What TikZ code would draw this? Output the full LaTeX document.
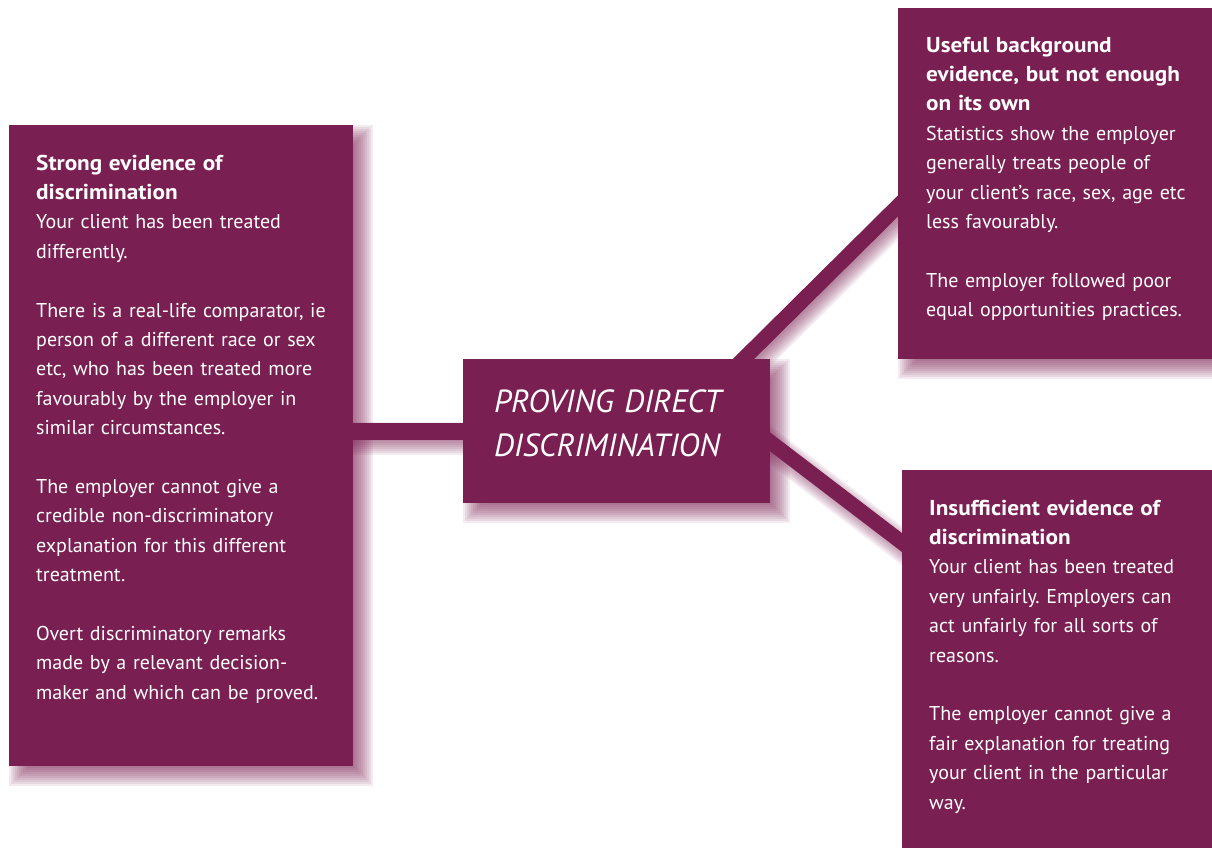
\documentclass[tikz,border=0pt]{standalone}
\usepackage{fontspec}
\setmainfont{PT Sans}
\newfontface\hdfont{PT Sans Bold}[FakeStretch=1.08]
\usetikzlibrary{calc,backgrounds}
\definecolor{plum}{RGB}{122,31,82}
\newcommand{\hd}[1]{{\hdfont\fontsize{21.5}{29.4}\selectfont #1}}
\newcommand{\boxshadow}[1]{%
  \foreach \ee in {10,8,...,-10}{%
    \fill[plum, opacity=0.09] ($(#1.north west)+(10-\ee,10-\ee)$) rectangle ($(#1.south east)+(10+\ee,10+\ee)$);}}
\newcommand{\lineshadow}[3]{%
  \foreach \ee in {8,6,...,-6}{%
    \draw[plum, opacity=0.09, line width={#3+2*\ee}] ($(#1)+(5,7)$) -- ($(#2)+(5,7)$);}}
\begin{document}
\frenchspacing
\begin{tikzpicture}[x=1pt,y=-1pt,
  box/.style={fill=plum, draw=none, inner sep=0pt, anchor=north west},
  txt/.style={text=white, inner sep=0pt, anchor=base west, align=left, text width=330pt,
              font=\fontsize{20}{29.4}\selectfont},
  ctxt/.style={text=white, inner sep=0pt, anchor=base west, align=left, text width=290pt,
              font=\itshape\fontsize{32}{44}\selectfont},
  link/.style={draw=plum, line cap=butt}]
\useasboundingbox (0,0) rectangle (1212,847);

% boxes
\node[box, minimum width=344pt, minimum height=641pt] (L) at (9,125) {};
\node[box, minimum width=307pt, minimum height=144pt] (C) at (463,359) {};
\node[box, minimum width=330pt, minimum height=351pt] (TR) at (898,8) {};
\node[box, minimum width=330pt, minimum height=400pt] (BR) at (902,470) {};

% texts
\node[txt] (Lt) at (36,170) {\hd{Strong evidence of}\\
\hd{discrimination}\\
Your client has been treated\\
differently.\\[29.4pt]
There is a real-life comparator, ie\\
person of a different race or sex\\
etc, who has been treated more\\
favourably by the employer in\\
similar circumstances.\\[29.4pt]
The employer cannot give a\\
credible non-discriminatory\\
explanation for this different\\
treatment.\\[29.4pt]
Overt discriminatory remarks\\
made by a relevant decision-\\
maker and which can be proved.};

\node[ctxt] (Ct) at (494,412) {PROVING DIRECT\\DISCRIMINATION};

\node[txt] (TRt) at (926,52) {\hd{Useful background}\\
\hd{evidence, but not enough}\\
\hd{on its own}\\
Statistics show the employer\\
generally treats people of\\
your client’s race, sex, age etc\\
less favourably.\\[29.4pt]
The employer followed poor\\
equal opportunities practices.};

\node[txt] (BRt) at (929,515) {\hd{Insufficient evidence of}\\
\hd{discrimination}\\
Your client has been treated\\
very unfairly. Employers can\\
act unfairly for all sorts of\\
reasons.\\[29.4pt]
The employer cannot give a\\
fair explanation for treating\\
your client in the particular\\
way.};

% connector end points (inside the boxes)
\coordinate (h1) at ($(C.west)+(10,0)$);
\coordinate (h2) at ($(C.west -| L.east)+(-10,0)$);
\coordinate (t1) at ($(C.north)+(96.5,30)$);
\coordinate (t2) at ($(TR.west)+(31,-8.5)$);
\coordinate (b1) at ($(C.east)+(-30,-12)$);
\coordinate (b2) at ($(BR.west)+(31,-104)$);

\begin{scope}[on background layer]
  \boxshadow{L}
  \boxshadow{C}
  \boxshadow{TR}
  \boxshadow{BR}
  \lineshadow{h1}{h2}{17}
  \lineshadow{t1}{t2}{15}
  \lineshadow{b1}{b2}{15}
  \draw[link, line width=17pt] (h1) -- (h2);
  \draw[link, line width=15pt] (t1) -- (t2);
  \draw[link, line width=15pt] (b1) -- (b2);
\end{scope}
\end{tikzpicture}
\end{document}
